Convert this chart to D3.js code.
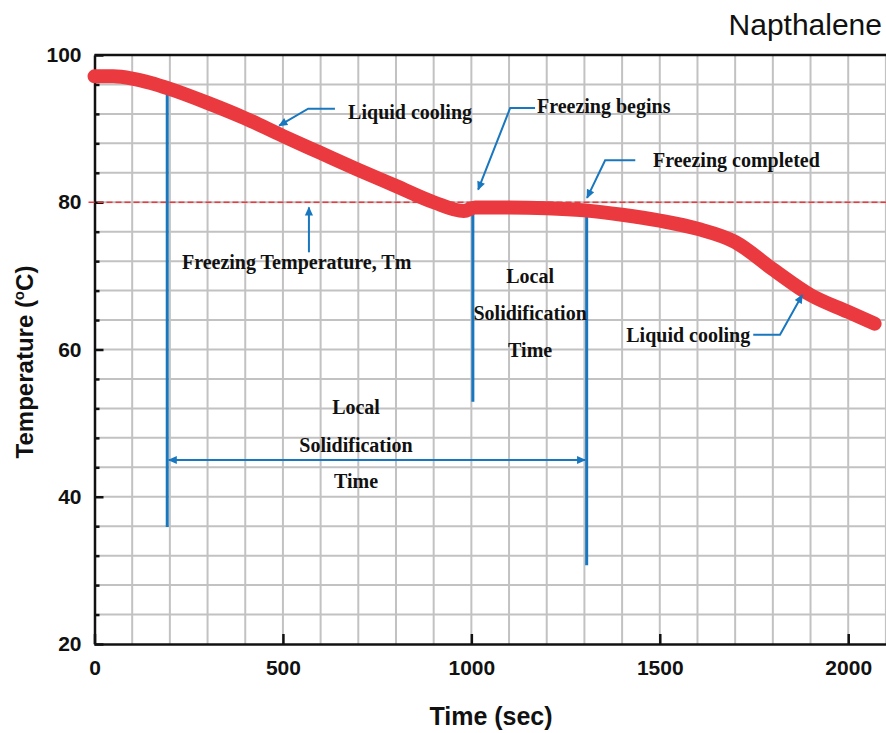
<!DOCTYPE html>
<html>
<head>
<meta charset="utf-8">
<script src="https://cdn.jsdelivr.net/npm/d3@7"></script>
<style>
  html, body { margin: 0; padding: 0; background: #fff; }
  svg { display: block; }
</style>
</head>
<body>
<svg id="chart" width="886" height="733"></svg>
<script>
// Cooling curve of naphthalene: temperature (°C) against time (sec)
const timeSec = [0, 50, 100, 150, 200, 300, 400, 500, 600, 700, 800, 900, 980, 1010, 1100, 1200, 1300, 1400, 1500, 1600, 1700, 1800, 1900, 2000, 2070];
const tempC   = [97.1, 97.1, 96.8, 96.2, 95.4, 93.5, 91.4, 89.0, 86.7, 84.4, 82.2, 80.0, 78.8, 79.3, 79.3, 79.2, 78.9, 78.3, 77.5, 76.4, 74.6, 70.9, 67.4, 65.1, 63.5];

const xMajorTicks = [0, 500, 1000, 1500, 2000];
const yMajorTicks = [20, 40, 60, 80, 100];
const freezingTemp = 80;

// Vertical markers: time, lower temperature, upper temperature (on the curve)
const markerTime   = [193, 1004, 1306];
const markerBottom = [35.9, 52.9, 30.7];
const markerTop    = [95.5, 79.3, 78.9];

// Local solidification time span (double-headed arrow)
const spanStart = 193, spanEnd = 1306, spanTemp = 45.0;

// Callout arrows in data units: [tail, elbow, tip]
const callouts = [
  [[638, 92.7], [567, 92.7], [490, 90.4]],
  [[1169, 92.8], [1103, 92.8], [1018, 81.7]],
  [[1435, 85.7], [1355, 85.7], [1307, 80.6]],
  [[569, 73.2], [569, 73.2], [569, 79.3]],
  [[1748, 62.0], [1819, 62.0], [1878, 67.4]]
];

// Annotation text: label, time, temperature (baseline), anchor
const notes = [
  ["Liquid cooling", 673, 91.3, "start"],
  ["Freezing begins", 1174, 92.1, "start"],
  ["Freezing completed", 1482, 84.8, "start"],
  ["Freezing Temperature, Tm", 232, 70.9, "start"],
  ["Local", 1156, 69.0, "middle"],
  ["Solidification", 1156, 64.0, "middle"],
  ["Time", 1156, 59.0, "middle"],
  ["Local", 694, 51.2, "middle"],
  ["Solidification", 694, 46.1, "middle"],
  ["Time", 694, 41.2, "middle"],
  ["Liquid cooling", 1411, 61.0, "start"]
];

const svg = d3.select("#chart");
const plotLeft = 94.5, plotTop = 55, plotBottom = 644, plotRight = 885.9;

const x = d3.scaleLinear().domain([0, 2100]).range([plotLeft, plotRight]);
const y = d3.scaleLinear().domain([20, 100]).range([plotBottom, plotTop]);

const RED = "#ea3a3f";
const BLUE = "#1877bf";
const GRID = "#c2c2c2";

// Grid
const grid = svg.append("g");
grid.selectAll("line.v")
  .data(d3.range(100, 2101, 100))
  .join("line")
  .attr("class", "v")
  .attr("x1", d => x(d)).attr("x2", d => x(d))
  .attr("y1", plotTop).attr("y2", plotBottom)
  .attr("stroke", GRID).attr("stroke-width", 2);
grid.selectAll("line.h")
  .data(d3.range(24, 100, 4))
  .join("line")
  .attr("class", "h")
  .attr("x1", plotLeft).attr("x2", plotRight + 2)
  .attr("y1", d => y(d)).attr("y2", d => y(d))
  .attr("stroke", GRID).attr("stroke-width", 2);

// Top frame
svg.append("line")
  .attr("x1", plotLeft).attr("x2", 886).attr("y1", plotTop).attr("y2", plotTop)
  .attr("stroke", "#111").attr("stroke-width", 2.5);

// Axes
const tickFont = "'Liberation Sans', Arial, sans-serif";

const yMinor = svg.append("g").attr("transform", `translate(${plotLeft},0)`)
  .call(d3.axisLeft(y).tickValues(d3.range(24, 100, 4).filter(v => v % 20 !== 0)).tickSize(-5).tickFormat(""));
yMinor.select(".domain").remove();

const yAxis = svg.append("g").attr("transform", `translate(${plotLeft},0)`)
  .call(d3.axisLeft(y).tickValues(yMajorTicks).tickFormat(d3.format("d"))
    .tickSizeInner(-9).tickSizeOuter(0).tickPadding(13));

const xAxis = svg.append("g").attr("transform", `translate(0,${plotBottom})`)
  .call(d3.axisBottom(x).tickValues(xMajorTicks).tickFormat(d3.format("d"))
    .tickSizeInner(-10).tickSizeOuter(0).tickPadding(16));
xAxis.select(".domain").attr("d", `M${plotLeft},0.5H886`);

[yMinor, yAxis, xAxis].forEach(g => {
  g.selectAll("line").attr("stroke", "#111").attr("stroke-width", 2.5);
  g.selectAll(".domain").attr("stroke", "#111").attr("stroke-width", 2.5);
  g.selectAll("text")
    .attr("font-family", tickFont).attr("font-weight", "bold")
    .attr("font-size", 21).attr("fill", "#111");
});

// Freezing temperature, dashed
svg.append("line")
  .attr("x1", x(0) - 6).attr("x2", 886)
  .attr("y1", y(freezingTemp)).attr("y2", y(freezingTemp))
  .attr("stroke", RED).attr("stroke-width", 1.6)
  .attr("stroke-dasharray", "6,3");

// Arrowhead markers
const defs = svg.append("defs");
defs.append("marker")
  .attr("id", "head").attr("markerUnits", "userSpaceOnUse")
  .attr("viewBox", "0 -5 10 10").attr("refX", 9).attr("refY", 0)
  .attr("markerWidth", 10).attr("markerHeight", 9).attr("orient", "auto")
  .append("path").attr("d", "M0,-4.5L10,0L0,4.5Z").attr("fill", BLUE);
defs.append("marker")
  .attr("id", "tail").attr("markerUnits", "userSpaceOnUse")
  .attr("viewBox", "0 -5 10 10").attr("refX", 1).attr("refY", 0)
  .attr("markerWidth", 10).attr("markerHeight", 9).attr("orient", "auto")
  .append("path").attr("d", "M10,-4.5L0,0L10,4.5Z").attr("fill", BLUE);

// Vertical markers
svg.append("g").selectAll("line")
  .data(markerTime.map((t, i) => ({ t, lo: markerBottom[i], hi: markerTop[i] })))
  .join("line")
  .attr("x1", d => x(d.t)).attr("x2", d => x(d.t))
  .attr("y1", d => y(d.hi)).attr("y2", d => y(d.lo))
  .attr("stroke", BLUE).attr("stroke-width", 3);

// Local solidification span
svg.append("line")
  .attr("x1", x(spanStart) + 1.5).attr("x2", x(spanEnd) - 1.5)
  .attr("y1", y(spanTemp)).attr("y2", y(spanTemp))
  .attr("stroke", BLUE).attr("stroke-width", 2)
  .attr("marker-start", "url(#tail)").attr("marker-end", "url(#head)");

// Cooling curve
const line = d3.line()
  .x((d, i) => x(timeSec[i]))
  .y(d => y(d))
  .curve(d3.curveMonotoneX);
svg.append("path")
  .attr("d", line(tempC))
  .attr("fill", "none")
  .attr("stroke", RED).attr("stroke-width", 14)
  .attr("stroke-linecap", "round").attr("stroke-linejoin", "round");

// Callout arrows
const callLine = d3.line().x(d => x(d[0])).y(d => y(d[1]));
svg.append("g").selectAll("path")
  .data(callouts)
  .join("path")
  .attr("d", d => callLine(d))
  .attr("fill", "none").attr("stroke", BLUE).attr("stroke-width", 2)
  .attr("marker-end", "url(#head)");

// Annotation labels
svg.append("g").selectAll("text")
  .data(notes)
  .join("text")
  .attr("x", d => x(d[1])).attr("y", d => y(d[2]))
  .attr("text-anchor", d => d[3])
  .attr("font-family", "'Liberation Serif', 'Times New Roman', serif")
  .attr("font-weight", "bold").attr("font-size", 20).attr("fill", "#111")
  .text(d => d[0]);

// Title and axis titles
svg.append("text")
  .attr("x", 882).attr("y", 35).attr("text-anchor", "end")
  .attr("font-family", tickFont).attr("font-size", 30).attr("fill", "#111")
  .text("Napthalene");

svg.append("text")
  .attr("x", 491).attr("y", 725).attr("text-anchor", "middle")
  .attr("font-family", tickFont).attr("font-weight", "bold")
  .attr("font-size", 25).attr("fill", "#111")
  .text("Time (sec)");

const yTitle = svg.append("text")
  .attr("transform", "translate(33,362) rotate(-90)")
  .attr("text-anchor", "middle")
  .attr("font-family", tickFont).attr("font-weight", "bold")
  .attr("font-size", 24).attr("fill", "#111");
yTitle.append("tspan").text("Temperature (");
yTitle.append("tspan").attr("font-size", 15).attr("dy", -9).text("o");
yTitle.append("tspan").attr("dy", 9).text("C)");
</script>
</body>
</html>
